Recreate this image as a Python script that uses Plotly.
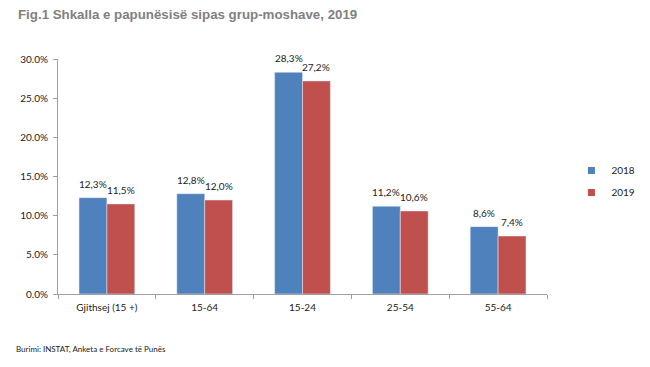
import plotly.graph_objects as go

categories = ["Gjithsej (15 +)", "15-64", "15-24", "25-54", "55-64"]
v2018 = [12.3, 12.8, 28.3, 11.2, 8.6]
v2019 = [11.5, 12.0, 27.2, 10.6, 7.4]
series = [("2018", v2018, "#4F81BD"), ("2019", v2019, "#C0504D")]
yticks = [0, 5, 10, 15, 20, 25, 30]
yticklabels = ["0.0%", "5.0%", "10.0%", "15.0%", "20.0%", "25.0%", "30.0%"]

def lab(v):
    return f"{v:.1f}%".replace(".", ",")

lf = dict(family="Lato, Open Sans, sans-serif", size=10, color="#222222")

W, H = 642, 359
L, R, T, B = 50, 103, 51, 73
pw = W - L - R
ph = H - T - B
GAP = 0.43

fig = go.Figure()
for name, vals, col in series:
    fig.add_trace(go.Bar(name=name, x=categories, y=vals, marker_color=col,
                         showlegend=False, offsetgroup=name))
    fig.add_trace(go.Scatter(name=name, x=[None], y=[None], mode="markers",
                             marker=dict(symbol="square", size=7, color=col),
                             legendgroup=name, showlegend=True))

# data labels
cat_w = pw / len(categories)
bar_w = cat_w * (1 - GAP) / 2
for i, (name, vals, col) in enumerate(series):
    shift = (i - 0.5) * bar_w
    for c, v in zip(categories, vals):
        fig.add_annotation(x=c, y=v, xref="x", yref="y", text=lab(v), showarrow=False,
                           xanchor="center", yanchor="bottom", xshift=shift, yshift=6,
                           font=lf)

fig.update_layout(
    width=W, height=H,
    margin=dict(l=L, r=R, t=T, b=B, autoexpand=False),
    paper_bgcolor="white", plot_bgcolor="white",
    barmode="group", bargap=GAP, bargroupgap=0,
    showlegend=True,
    legend=dict(x=1.05, y=0.479, xanchor="left", yanchor="middle", font=lf,
                itemwidth=30, tracegroupgap=3, bgcolor="rgba(0,0,0,0)"),
    title=dict(text="<b>Fig.1 Shkalla e papunësisë sipas grup-moshave, 2019</b>",
               x=10 / W, xanchor="left", y=1 - 2 / H, yanchor="top",
               font=dict(family="Liberation Sans, Arial", size=13.3, color="#808080")),
    font=lf,
)
fig.update_xaxes(showline=True, linecolor="#a0a0a0", linewidth=1, ticks="outside",
                 tickcolor="#a0a0a0", ticklen=4, tickson="boundaries", showgrid=False,
                 tickfont=lf, ticklabelstandoff=4)
fig.update_yaxes(range=[0, 30], tickvals=yticks, ticktext=yticklabels, showline=True,
                 linecolor="#a0a0a0", linewidth=1, ticks="outside", tickcolor="#a0a0a0",
                 ticklen=4, showgrid=False, zeroline=False, tickfont=lf, ticklabelstandoff=3)
fig.add_annotation(text="Burimi: INSTAT, Anketa e Forcave të Punës", xref="paper", yref="paper",
                   x=(6 - L) / pw, y=(294 - 349) / ph, xanchor="left", yanchor="middle",
                   showarrow=False,
                   font=dict(family="Lato, Open Sans, sans-serif", size=8, color="#222222"))
fig.write_html("out.html")
